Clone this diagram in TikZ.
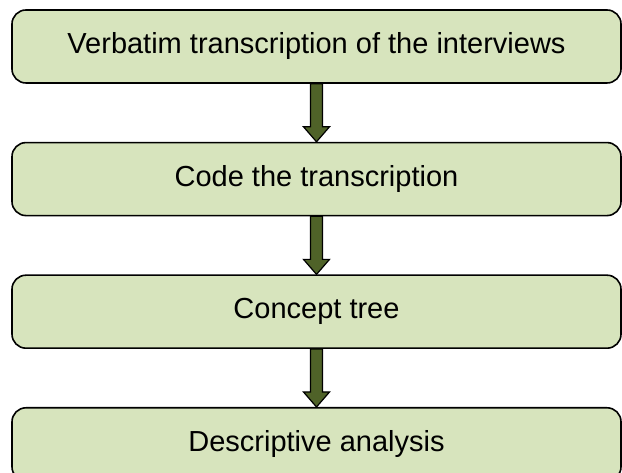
\documentclass[tikz,border=0pt]{standalone}
\usepackage{fontspec}
\setmainfont{Liberation Sans}
\usetikzlibrary{positioning,calc}
\definecolor{boxgreen}{HTML}{D7E4BD}
\definecolor{arrowgreen}{HTML}{4F6228}
\tikzstyle{stage}=[draw=black, line width=1.6pt, fill=boxgreen, rounded corners=14pt, minimum width=609pt, minimum height=73pt, inner sep=0pt, font=\fontsize{29}{34}\selectfont]
\tikzstyle{flow}=[draw=black, line width=1.2pt, fill=arrowgreen]
\newcommand{\flowarrow}[2]{%
\draw[flow] let \p1=(#1.south), \p2=(#2.north) in (\x1-6pt,\y1) -- (\x1+6pt,\y1) -- (\x1+6pt,\y2+15pt) -- (\x1+13pt,\y2+15pt) -- (\x1,\y2) -- (\x1-13pt,\y2+15pt) -- (\x1-6pt,\y2+15pt) -- cycle;}

\begin{document}
\begin{tikzpicture}[x=1pt, y=1pt, node distance=58pt]
\useasboundingbox (0,0) rectangle (622,473);
\node[stage] (verbatim) at (316.5,426.5) {Verbatim transcription of the interviews};
\node[stage, below=of verbatim] (coding) {Code the transcription};
\node[stage, below=of coding] (tree) {Concept tree};
\node[stage, below=of tree] (analysis) {Descriptive analysis};
\flowarrow{verbatim}{coding}
\flowarrow{coding}{tree}
\flowarrow{tree}{analysis}
\end{tikzpicture}
\end{document}
